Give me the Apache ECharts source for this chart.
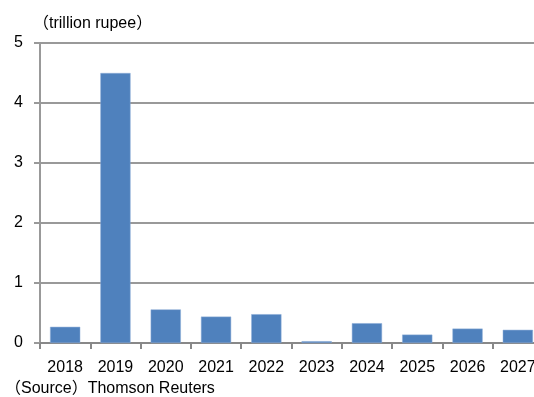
<!DOCTYPE html>
<html>
<head>
    <meta http-equiv="Content-Type" content="text/html; charset=utf-8" />
    <title>trillion rupee</title>
    <script src="https://cdn.jsdelivr.net/npm/echarts@6/dist/echarts.min.js"></script>
</head>
<body style="margin:0;padding:0;background:#ffffff;overflow:hidden;">
    <div id="main" style="width:545px;height:397px;"></div>
    <script type="text/javascript">
        // data
        var years = ['2018', '2019', '2020', '2021', '2022', '2023', '2024', '2025', '2026', '2027'];
        var amounts = [0.27, 4.5, 0.56, 0.44, 0.48, 0.03, 0.33, 0.14, 0.24, 0.22];
        var yTicks = [0, 1, 2, 3, 4, 5];

        var fontFam = '"Liberation Sans", "Noto Sans CJK JP", sans-serif';
        var chart = echarts.init(document.getElementById('main'));

        var option = {
            animation: false,
            backgroundColor: '#ffffff',
            title: [
                {
                    text: '（trillion rupee）',
                    left: 28,
                    top: 11,
                    textStyle: { color: '#000', fontSize: 16, fontWeight: 'normal', fontFamily: fontFam }
                },
                {
                    text: '（Source）Thomson Reuters',
                    left: 0,
                    top: 376,
                    textStyle: { color: '#000', fontSize: 16, fontWeight: 'normal', fontFamily: fontFam }
                }
            ],
            grid: {
                left: 40,
                right: 2,
                top: 43,
                bottom: 54
            },
            xAxis: {
                type: 'category',
                data: years,
                axisLine: { lineStyle: { color: '#888', width: 2 } },
                axisTick: { show: true, length: 6, lineStyle: { color: '#888', width: 2 } },
                axisLabel: { color: '#000', fontSize: 16, margin: 17, fontFamily: fontFam, interval: 0 },
                splitLine: { show: false }
            },
            yAxis: {
                type: 'value',
                min: yTicks[0],
                max: yTicks[yTicks.length - 1],
                interval: 1,
                axisLine: { show: true, lineStyle: { color: '#999', width: 2 } },
                axisTick: { show: true, length: 6, lineStyle: { color: '#999', width: 2 } },
                axisLabel: { color: '#000', fontSize: 16, margin: 17, fontFamily: fontFam },
                splitLine: { show: true, lineStyle: { color: '#999', width: 2 } }
            },
            series: [
                {
                    type: 'bar',
                    data: amounts,
                    barCategoryGap: '40%',
                    itemStyle: { color: '#4F81BD', borderColor: '#8FAFD8', borderWidth: 0.5 }
                }
            ]
        };
        chart.setOption(option);
    </script>
</body>
</html>
